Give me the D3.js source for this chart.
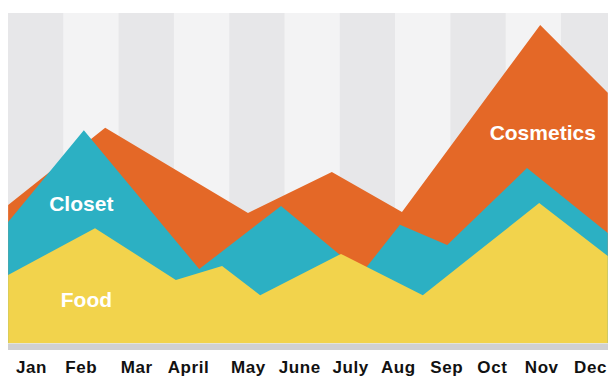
<!DOCTYPE html>
<html>
<head>
<meta charset="utf-8">
<script src="https://cdn.jsdelivr.net/npm/d3@7"></script>
<style>
  html, body { margin: 0; padding: 0; background: #ffffff; }
  svg { display: block; }
</style>
</head>
<body>
<svg id="chart" width="608" height="376"></svg>
<script>
// ---- data ----
const months = ["Jan","Feb","Mar","April","May","June","July","Aug","Sep","Oct","Nov","Dec"];
// month label positions (in month-index units)
const monthPos = [0, 0.98, 2.07, 3.09, 4.27, 5.28, 6.28, 7.22, 8.17, 9.07, 10.04, 11];

// each series: x in month-index units, value in 0..100
const cosmeticsX = [-0.45, 1.46, 4.27, 5.92, 7.30, 10.02, 11.35];
const cosmeticsV = [41.8, 65.2, 39.4, 51.8, 39.7, 96.4, 75.8];

const closetX = [-0.45, 1.04, 3.31, 4.92, 6.51, 7.26, 8.19, 9.76, 11.35];
const closetV = [36.7, 64.5, 22.4, 41.5, 21.2, 35.8, 29.7, 53.0, 33.3];

const foodX = [-0.45, 1.26, 2.85, 3.76, 4.51, 6.10, 7.71, 10.00, 11.35];
const foodV = [20.6, 34.8, 19.1, 23.3, 14.5, 27.0, 14.5, 42.4, 26.4];

const seriesNames = ["Cosmetics", "Closet", "Food"];
// label anchor points for series names (month-index units, value)
const labelX = [10.07, 0.99, 1.09];
const labelV = [61.5, 40.0, 10.9];

// ---- layout ----
const svg = d3.select("#chart");
const pLeft = 8, pRight = 608, pTop = 13, pBottom = 343;

const x = d3.scaleLinear().domain([0, 11]).range([31, 590]);
const y = d3.scaleLinear().domain([0, 100]).range([pBottom, pTop]);

const colors = { Cosmetics: "#e46827", Closet: "#2cb0c3", Food: "#f2d34c" };

// background stripes
const stripe = d3.scaleBand().domain(d3.range(12)).range([pLeft, pLeft + 12 * 55.3]).padding(0);
svg.append("defs").append("clipPath").attr("id", "plot")
  .append("rect").attr("x", pLeft).attr("y", pTop).attr("width", pRight - pLeft).attr("height", pBottom - pTop);

const g = svg.append("g").attr("clip-path", "url(#plot)");
g.selectAll("rect.stripe").data(d3.range(12)).join("rect")
  .attr("class", "stripe")
  .attr("x", d => stripe(d))
  .attr("y", pTop)
  .attr("width", stripe.bandwidth() + 0.5)
  .attr("height", pBottom - pTop)
  .attr("fill", (d, i) => i % 2 === 0 ? "#e7e7e9" : "#f3f3f4");

const area = d3.area()
  .x(d => x(d[0]))
  .y0(y(0))
  .y1(d => y(d[1]));

const series = [
  { name: "Cosmetics", pts: d3.zip(cosmeticsX, cosmeticsV) },
  { name: "Closet", pts: d3.zip(closetX, closetV) },
  { name: "Food", pts: d3.zip(foodX, foodV) }
];

g.selectAll("path.area").data(series).join("path")
  .attr("class", "area")
  .attr("d", d => area(d.pts))
  .attr("fill", d => colors[d.name]);

// gray base strip
svg.append("rect")
  .attr("x", pLeft).attr("y", pBottom)
  .attr("width", pRight - pLeft).attr("height", 7)
  .attr("fill", "#d0d0d2");
svg.append("rect")
  .attr("x", pLeft).attr("y", pBottom)
  .attr("width", pRight - pLeft).attr("height", 1)
  .attr("fill", "#e4e4d8");

// series labels
svg.selectAll("text.slabel").data(seriesNames).join("text")
  .attr("class", "slabel")
  .attr("x", (d, i) => x(labelX[i]))
  .attr("y", (d, i) => y(labelV[i]))
  .attr("text-anchor", "middle")
  .attr("fill", "#ffffff")
  .attr("font-family", "Liberation Sans, Arial, sans-serif")
  .attr("font-weight", "bold")
  .attr("font-size", 21)
  .text(d => d);

// x axis
const axis = d3.axisBottom(x)
  .tickValues(monthPos)
  .tickFormat((d, i) => months[i])
  .tickSize(0)
  .tickPadding(0);

const ax = svg.append("g").attr("transform", `translate(0,${pBottom + 7})`).call(axis);
ax.select(".domain").remove();
ax.selectAll("text")
  .attr("dy", null)
  .attr("y", 22.5)
  .attr("fill", "#111111")
  .attr("font-family", "Liberation Sans, Arial, sans-serif")
  .attr("font-weight", "bold")
  .attr("font-size", 17)
  .attr("letter-spacing", "0.6px");
</script>
</body>
</html>
